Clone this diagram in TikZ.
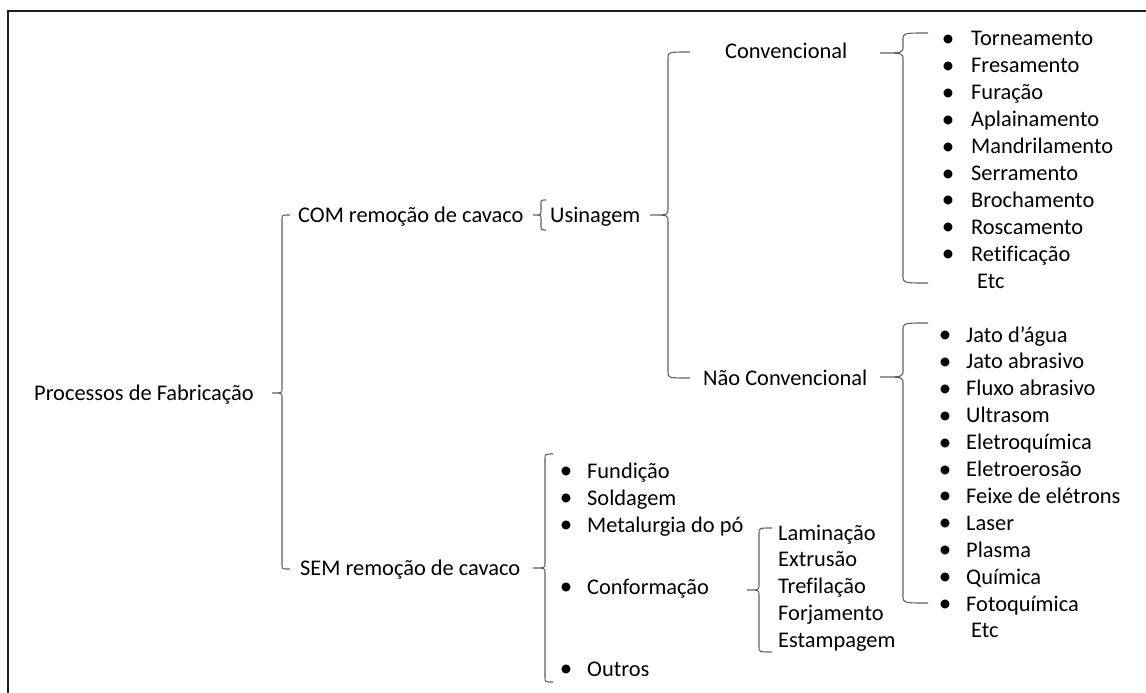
\documentclass[tikz,border=0pt]{standalone}
\usepackage{fontspec}
\setmainfont{Carlito}[Ligatures={NoCommon}]
\begin{document}
\begin{tikzpicture}[x=1pt,y=-1pt,
  lbl/.style={anchor=base west,inner sep=0pt,font=\fontsize{22.4}{26}\selectfont,text=black},
  dot/.style={anchor=base,inner sep=0pt,font=\fontsize{25}{26}\selectfont,text=black},
  brk/.style={draw=black!62,line width=1.1pt},
  frame/.style={draw=black!88,line width=1.3pt}]
\useasboundingbox (0,0) rectangle (1146,693);
% frame (top and left edges only)
\draw[frame] (8,693) -- (8,11) -- (1146,11);

% brace: #1 vertical x, #2 end x, #3 tip x, #4 top y, #5 middle y, #6 bottom y, #7 corner radius
\newcommand\bracedraw[7]{%
  \draw[brk] (#2,#4) .. controls (#1,#4) .. (#1,#4+#7) -- (#1,#5-#7)
    .. controls (#1,#5) .. (#3,#5) .. controls (#1,#5) .. (#1,#5+#7)
    -- (#1,#6-#7) .. controls (#1,#6) .. (#2,#6);}

% level 0
\node[lbl] (proc) at (34,400) {Processos de Fabricação};
% level 1
\node[lbl] (com) at (298,222) {COM remoção de cavaco};
\node[lbl] (sem) at (300,575) {SEM remoção de cavaco};
% level 2
\node[lbl] (usi) at (550,222) {Usinagem};
\node[lbl] (conv) at (725,59) {Convencional};
\node[lbl] (nconv) at (703,385) {Não Convencional};

% conventional machining processes
\foreach \t [count=\i from 0] in {Torneamento,Fresamento,Furação,Aplainamento,Mandrilamento,Serramento,Brochamento,Roscamento,Retificação}{
  \node[dot] (cb\i) at (948,46.5+26.9*\i) {•};
  \node[lbl] (c\i) at (971,46+26.9*\i) {\t};
}
\node[lbl] (cetc) at (977,288) {Etc};

% non-conventional machining processes
\foreach \t [count=\i from 0] in {Jato d’água,Jato abrasivo,Fluxo abrasivo,Ultrasom,Eletroquímica,Eletroerosão,Feixe de elétrons,Laser,Plasma,Química,Fotoquímica}{
  \node[dot] (nb\i) at (945,342.5+26.9*\i) {•};
  \node[lbl] (n\i) at (966,342+26.9*\i) {\t};
}
\node[lbl] (netc) at (971,637) {Etc};

% processes without chip removal
\foreach \t/\yy [count=\i from 0] in {Fundição/478,Soldagem/505,Metalurgia do pó/532,Conformação/594,Outros/676}{
  \node[dot] (sb\i) at (566,\yy+0.5) {•};
  \node[lbl] (s\i) at (587,\yy) {\t};
}
% forming processes
\foreach \t [count=\i from 0] in {Laminação,Extrusão,Trefilação,Forjamento,Estampagem}{
  \node[lbl] (f\i) at (778,540+26.8*\i) {\t};
}

% braces
\bracedraw{282}{290}{272}{215}{393}{569}{4}
\bracedraw{541}{546}{533}{200}{215}{230}{4}
\bracedraw{668}{690}{650}{52}{215}{378}{6}
\bracedraw{903}{928}{880}{33}{53}{283}{7}
\bracedraw{903}{928}{880}{323}{377}{603}{7}
\bracedraw{545}{553}{533}{454}{568}{682}{5}
\bracedraw{759}{772}{747}{528}{590}{652}{5}
\end{tikzpicture}
\end{document}
